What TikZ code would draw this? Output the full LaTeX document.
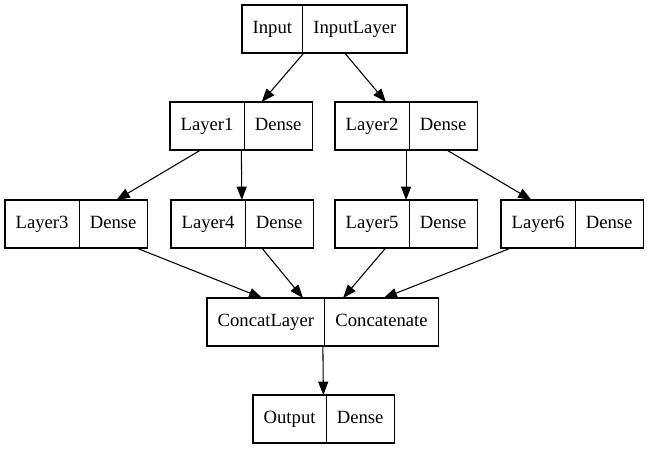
\documentclass[tikz,border=0pt]{standalone}
\usepackage{fontspec}
\setmainfont{Liberation Serif}
\usetikzlibrary{positioning,fit,arrows.meta}

\tikzset{
  field/.style={draw, line width=0.8pt, outer sep=0pt, minimum height=36pt,
    inner xsep=8pt, inner ysep=0pt, text height=9.5pt, text depth=3pt,
    font=\fontsize{14}{16}\selectfont},
  record/.style={fit=#1, inner sep=0pt, outer sep=0pt},
  link/.style={-{Triangle[length=10pt,width=7.5pt]}, line width=0.8pt},
}

\begin{document}
\begin{tikzpicture}[x=0.75pt,y=-0.75pt]
  \useasboundingbox (0,0) rectangle (648,449);
  % input
  \node[field, anchor=west] (inA) at (242,29) {Input};
  \node[field, right=0pt of inA] (inB) {InputLayer};
  \node[record={(inA)(inB)}] (in) {};
  % first dense pair
  \node[field, anchor=west] (l1A) at (170,126) {Layer1};
  \node[field, right=0pt of l1A] (l1B) {Dense};
  \node[record={(l1A)(l1B)}] (l1) {};
  \node[field, anchor=west] (l2A) at (335,126) {Layer2};
  \node[field, right=0pt of l2A] (l2B) {Dense};
  \node[record={(l2A)(l2B)}] (l2) {};
  % second dense row
  \node[field, anchor=west] (l3A) at (5,224) {Layer3};
  \node[field, right=0pt of l3A] (l3B) {Dense};
  \node[record={(l3A)(l3B)}] (l3) {};
  \node[field, anchor=west] (l4A) at (171,224) {Layer4};
  \node[field, right=0pt of l4A] (l4B) {Dense};
  \node[record={(l4A)(l4B)}] (l4) {};
  \node[field, anchor=west] (l5A) at (335,224) {Layer5};
  \node[field, right=0pt of l5A] (l5B) {Dense};
  \node[record={(l5A)(l5B)}] (l5) {};
  \node[field, anchor=west] (l6A) at (501,224) {Layer6};
  \node[field, right=0pt of l6A] (l6B) {Dense};
  \node[record={(l6A)(l6B)}] (l6) {};
  % merge and output
  \node[field, anchor=west] (catA) at (207,322) {ConcatLayer};
  \node[field, right=0pt of catA] (catB) {Concatenate};
  \node[record={(catA)(catB)}] (cat) {};
  \node[field, anchor=west] (outA) at (253,419) {Output};
  \node[field, right=0pt of outA] (outB) {Dense};
  \node[record={(outA)(outB)}] (out) {};
  % edges
  \draw[link] (in) -- (l1);
  \draw[link] (in) -- (l2);
  \draw[link] (l1) -- (l3);
  \draw[link] (l1) -- (l4);
  \draw[link] (l2) -- (l5);
  \draw[link] (l2) -- (l6);
  \draw[link] (l3) -- (cat);
  \draw[link] (l4) -- (cat);
  \draw[link] (l5) -- (cat);
  \draw[link] (l6) -- (cat);
  \draw[link] (cat) -- (out);
\end{tikzpicture}
\end{document}
